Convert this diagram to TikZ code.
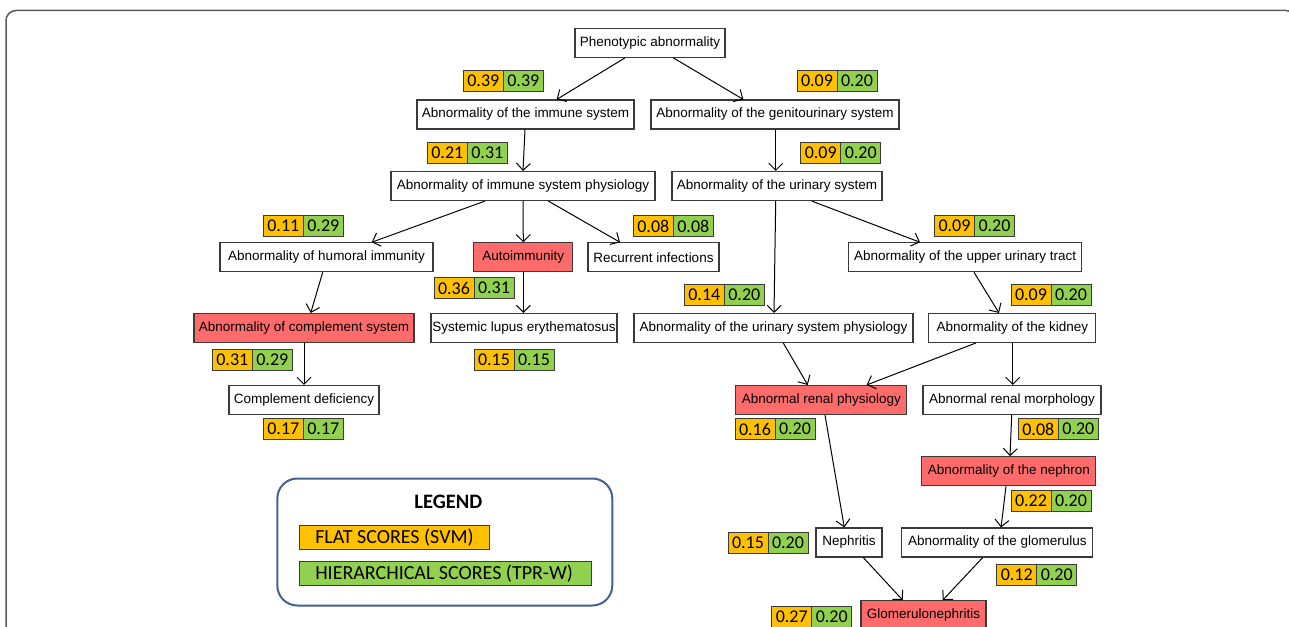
\documentclass[tikz,border=0pt]{standalone}
\usepackage{fontspec}
\setmainfont{Liberation Sans}
\newfontfamily\calib{Carlito}
\usetikzlibrary{arrows.meta}
\definecolor{redfill}{HTML}{FF6B6B}
\definecolor{orangef}{HTML}{FFC000}
\definecolor{greenf}{HTML}{92D050}
\definecolor{legblue}{HTML}{41628F}
\definecolor{bord}{HTML}{3A3A3A}
\definecolor{framec}{HTML}{5A5A5A}
\newcommand{\scorepair}[5]{%
  \node[fs] (#1f) at (#2-20,#3) {#4};
  \node[hs] (#1h) at (#2+20,#3) {#5};}
\begin{document}
\begin{tikzpicture}[x=1pt,y=-1pt,
  term/.style={draw=bord, line width=1.1pt, fill=white, minimum height=29pt, inner sep=0pt, font=\fontsize{13.5}{15}\selectfont, text=black},
  hit/.style={term, fill=redfill},
  fs/.style={draw=bord, line width=0.9pt, fill=orangef, minimum width=40pt, minimum height=21pt, inner sep=0pt, font=\calib\fontsize{18}{20}\selectfont, text=black},
  hs/.style={fs, fill=greenf},
  arr/.style={-{Straight Barb[length=7pt,width=14pt]}, line width=1pt, black},
  legitem/.style={draw=bord, line width=0.9pt, anchor=west, inner xsep=15.5pt, inner ysep=0pt, minimum height=24.5pt, font=\calib\fontsize{20}{22}\selectfont, text=black},
]
\path[use as bounding box] (0,0) rectangle (1289,626);
\clip (0,0) rectangle (1289,626);
\draw[framec, line width=1.5pt, rounded corners=10pt] (6,10.5) rectangle (1296,660);

% nodes
\node[term, minimum width=150pt] (phen) at (650,42.8) {Phenotypic abnormality};
\node[term, minimum width=217pt] (imm) at (525.5,114.5) {Abnormality of the immune system};
\node[term, minimum width=248pt] (gen) at (775,114.5) {Abnormality of the genitourinary system};
\node[term, minimum width=264pt] (immphys) at (523,186) {Abnormality of immune system physiology};
\node[term, minimum width=210pt] (urin) at (777,186) {Abnormality of the urinary system};
\node[term, minimum width=213pt] (humoral) at (326.5,257.3) {Abnormality of humoral immunity};
\node[hit, minimum width=99pt] (auto) at (523.3,257.3) {Autoimmunity};
\node[term, minimum width=131pt] (recur) at (653.5,257.3) {Recurrent infections};
\node[term, minimum width=233pt] (upper) at (965.2,257.3) {Abnormality of the upper urinary tract};
\node[hit, minimum width=220pt] (compl) at (304,328) {Abnormality of complement system};
\node[term, minimum width=186pt] (sle) at (524,328) {Systemic lupus erythematosus};
\node[term, minimum width=279pt] (uphys) at (773.5,328) {Abnormality of the urinary system physiology};
\node[term, minimum width=167pt] (kidney) at (1012.3,328) {Abnormality of the kidney};
\node[term, minimum width=150pt] (cdef) at (304,400) {Complement deficiency};
\node[hit, minimum width=171pt] (rphys) at (821.3,400) {Abnormal renal physiology};
\node[term, minimum width=178pt] (rmorph) at (1012,400) {Abnormal renal morphology};
\node[hit, minimum width=174pt] (nephron) at (1008.8,471.2) {Abnormality of the nephron};
\node[term, minimum width=66pt] (nephritis) at (849,542.5) {Nephritis};
\node[term, minimum width=191pt] (glom) at (997.3,542.5) {Abnormality of the glomerulus};
\node[hit, minimum width=125pt] (gn) at (923.5,615.2) {Glomerulonephritis};

% score pairs
\scorepair{s1}{503.3}{80.5}{0.39}{0.39}
\scorepair{s2}{837}{80.5}{0.09}{0.20}
\scorepair{s3}{467.3}{153}{0.21}{0.31}
\scorepair{s4}{840.7}{153}{0.09}{0.20}
\scorepair{s5}{303.3}{226}{0.11}{0.29}
\scorepair{s6}{673.3}{226}{0.08}{0.08}
\scorepair{s7}{974.5}{226}{0.09}{0.20}
\scorepair{s8}{474}{288}{0.36}{0.31}
\scorepair{s9}{724.3}{295}{0.14}{0.20}
\scorepair{s10}{1051}{295}{0.09}{0.20}
\scorepair{s11}{252.3}{360}{0.31}{0.29}
\scorepair{s12}{514}{360}{0.15}{0.15}
\scorepair{s13}{303.3}{429}{0.17}{0.17}
\scorepair{s14}{775}{429}{0.16}{0.20}
\scorepair{s15}{1058.3}{429}{0.08}{0.20}
\scorepair{s16}{1051}{501.2}{0.22}{0.20}
\scorepair{s17}{768}{543}{0.15}{0.20}
\scorepair{s18}{1036.7}{575}{0.12}{0.20}
\scorepair{s19}{811.7}{616.5}{0.27}{0.20}

% connectors
\draw[arr] ([xshift=-25pt]phen.south) -- ([xshift=31.2pt]imm.north);
\draw[arr] ([xshift=23.3pt]phen.south) -- ([xshift=-31.7pt]gen.north);
\draw[arr] ([xshift=-0.5pt]imm.south) -- (immphys.north);
\draw[arr] ([xshift=0.7pt]gen.south) -- ([xshift=-1.3pt]urin.north);
\draw[arr] ([xshift=-38pt]immphys.south) -- ([xshift=45.2pt]humoral.north);
\draw[arr] (immphys.south) -- (auto.north);
\draw[arr] ([xshift=25.3pt]immphys.south) -- ([xshift=-33.5pt]recur.north);
\draw[arr] ([xshift=-1.3pt]urin.south) -- ([xshift=0.5pt]uphys.north);
\draw[arr] ([xshift=34.7pt]urin.south) -- ([xshift=-45.2pt]upper.north);
\draw[arr] ([xshift=-3.8pt]humoral.south) -- ([xshift=6.7pt]compl.north);
\draw[arr] (auto.south) -- ([xshift=-0.7pt]sle.north);
\draw[arr] (compl.south) -- (cdef.north);
\draw[arr] ([xshift=8.8pt]upper.south) -- ([xshift=-13.3pt]kidney.north);
\draw[arr] ([xshift=9.8pt]uphys.south) -- ([xshift=-13.6pt]rphys.north);
\draw[arr] ([xshift=-36.6pt]kidney.south) -- ([xshift=45.4pt]rphys.north);
\draw[arr] ([xshift=0.4pt]kidney.south) -- ([xshift=0.7pt]rmorph.north);
\draw[arr] ([xshift=-0.3pt]rmorph.south) -- ([xshift=1.2pt]nephron.north);
\draw[arr] ([xshift=3.7pt]rphys.south) -- ([xshift=-4.7pt]nephritis.north);
\draw[arr] ([xshift=-2.8pt]nephron.south) -- ([xshift=3.7pt]glom.north);
\draw[arr] ([xshift=14.3pt]nephritis.south) -- ([xshift=-20.8pt]gn.north);
\draw[arr] ([xshift=-14.6pt]glom.south) -- ([xshift=19.2pt]gn.north);

% legend
\node[draw=legblue, line width=2pt, rounded corners=20pt, fill=white, minimum width=335pt, minimum height=127pt, inner sep=0pt] (legend) at (444.8,542) {};
\node[font=\calib\bfseries\fontsize{20.5}{22}\selectfont, text=black] (legtitle) at (448.3,501.7) {LEGEND};
\node[legitem, fill=orangef] (legflat) at (299.3,537.2) {\makebox[158.7pt][l]{FLAT SCORES (SVM)}};
\node[legitem, fill=greenf] (leghier) at (299.3,573.3) {\makebox[260.4pt][l]{HIERARCHICAL SCORES (TPR-W)}};
\end{tikzpicture}
\end{document}
